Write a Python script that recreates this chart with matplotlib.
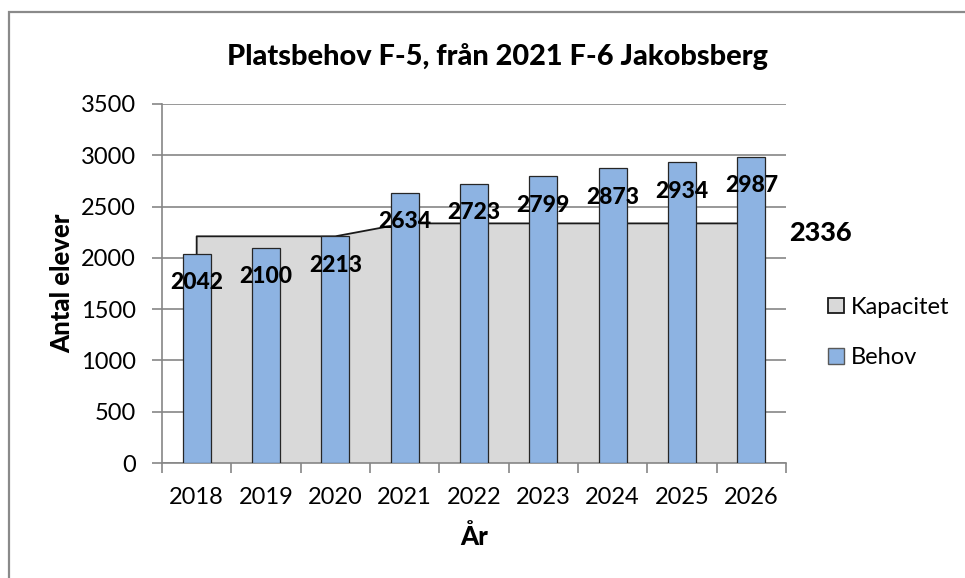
import matplotlib
matplotlib.use("Agg")
import matplotlib.pyplot as plt
from matplotlib.patches import Rectangle, Patch
import numpy as np

plt.rcParams['font.family'] = ['Lato', 'DejaVu Sans']

years = ["2018", "2019", "2020", "2021", "2022", "2023", "2024", "2025", "2026"]
behov = [2042, 2100, 2213, 2634, 2723, 2799, 2873, 2934, 2987]
kapacitet = [2210, 2210, 2210, 2336, 2336, 2336, 2336, 2336, 2336]
title = "Platsbehov F-5, från 2021 F-6 Jakobsberg"

BW = "black"

fig = plt.figure(figsize=(9.65, 5.78), dpi=100)
ax = fig.add_axes([162/965, 1-463/578, (786-162)/965, (463-104)/578])

x = np.arange(len(years))
grid_c = "#868686"

ax.set_xlim(-0.5, len(years)-0.5)
ax.set_ylim(0, 3500)
ax.set_yticks(np.arange(0, 3501, 500))
ax.yaxis.grid(True, color=grid_c, lw=1.2, zorder=0)
ax.set_axisbelow(True)

ax.fill_between(x, kapacitet, 0, facecolor="#D9D9D9", edgecolor="none", zorder=1)
ax.plot(np.r_[x[0], x, x[-1]], np.r_[0, kapacitet, 0], color="#1a1a1a", lw=1.3, zorder=2)

ax.bar(x, behov, width=0.4, color="#8DB3E2", edgecolor="#262626", lw=0.9, zorder=3)

for xi, v in zip(x, behov):
    ax.annotate(str(v), (xi, v), xytext=(0, -21), textcoords="offset points",
                ha="center", va="center", fontsize=16.5, fontweight=BW, zorder=5)
ax.annotate(str(kapacitet[-1]), (x[-1], kapacitet[-1]), xytext=(27, -7),
            textcoords="offset points", ha="left", va="center",
            fontsize=19.5, fontweight=BW, zorder=5)

ax.set_xticks(np.arange(-0.5, len(years), 1.0), minor=False)
ax.set_xticklabels([])
ax.set_xticks(x, minor=True)
ax.set_xticklabels(years, minor=True)
ax.tick_params(axis="x", which="major", direction="out", length=7, color=grid_c, width=1.2)
ax.tick_params(axis="x", which="minor", length=0, pad=17, labelsize=17)
ax.tick_params(axis="y", direction="out", length=7, color=grid_c, width=1.2, pad=12, labelsize=17)

for s in ["top", "right"]:
    ax.spines[s].set_visible(False)
for s in ["left", "bottom"]:
    ax.spines[s].set_color(grid_c)
    ax.spines[s].set_linewidth(1.2)

ax.set_xlabel("År", fontsize=18.5, fontweight=BW, labelpad=12)
ax.set_ylabel("Antal elever", fontsize=18.5, fontweight=BW, labelpad=4.5)

fig.text(497/965, 1-57/578, title, ha="center", va="center", fontsize=20.8, fontweight=BW)

handles = [Patch(facecolor="#D9D9D9", edgecolor="#1a1a1a", lw=1.3, label="Kapacitet"),
           Patch(facecolor="#8DB3E2", edgecolor="#595959", lw=1.0, label="Behov")]
fig.legend(handles=handles, loc="center left", bbox_to_anchor=(819/965, 1-332.5/578),
           frameon=False, fontsize=17, handlelength=0.65, handleheight=0.65,
           handletextpad=0.3, labelspacing=1.25, borderaxespad=0)

fig.patches.append(Rectangle((8.5/965, -0.1), 1.2, 1-11.5/578+0.1, transform=fig.transFigure,
                             facecolor="none", edgecolor="#8a8a8a", lw=1.6, zorder=0))

fig.savefig("out.png", dpi=100)
